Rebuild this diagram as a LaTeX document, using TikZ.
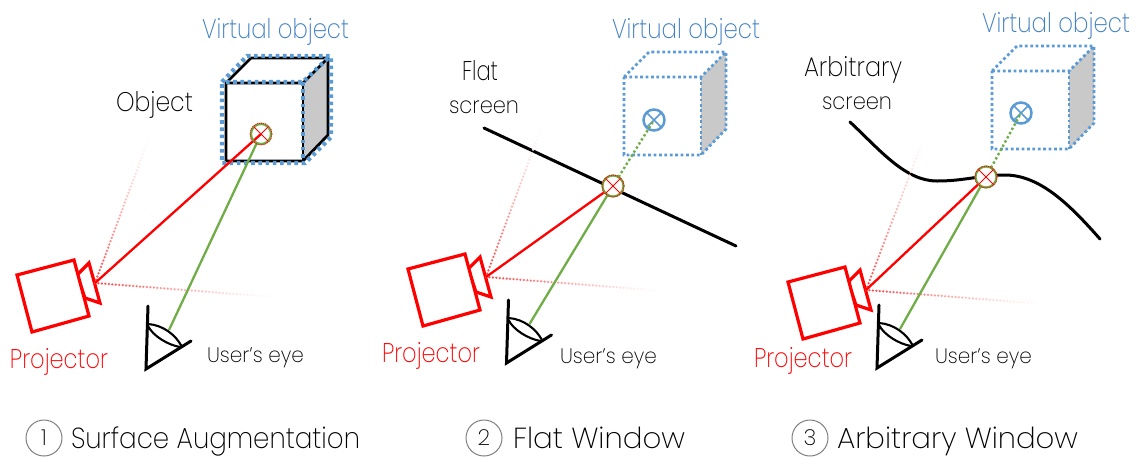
\documentclass[tikz,border=0pt]{standalone}
\usepackage{fontspec}
\usepackage{graphicx}
\setmainfont[UprightFont={* ExtraLight}]{Poppins}
\usetikzlibrary{calc}
\definecolor{vblue}{HTML}{5B9BD5}
\definecolor{tblue}{HTML}{3F7FC4}
\definecolor{vgreen}{HTML}{70AD47}
\definecolor{cgrey}{HTML}{C9C9C9}
\definecolor{tdark}{HTML}{000000}
% label: colour, fontsize, width, text
\newcommand\lbl[4]{\textcolor{#1}{\resizebox{#3pt}{\height}{\fontsize{#2}{#2}\selectfont #4}}}
\tikzset{
  x=1pt,y=-1pt,
  txt/.style={anchor=base west,inner sep=0pt,outer sep=0pt},
  protobox/.style={draw=red,line width=3.2pt,line join=miter,fill=white},
  ray/.style={draw=red,line width=2.3pt},
  sight/.style={draw=vgreen,line width=2.3pt},
  sightdot/.style={draw=vgreen,line width=2.4pt,dash pattern=on 2.4pt off 2.4pt},
  eyeline/.style={draw=black,line width=3pt,line cap=round},
  lensline/.style={draw=black,line width=2.1pt},
  vedge/.style={draw=vblue,line width=2.8pt,dash pattern=on 2.8pt off 2.6pt},
  vedgethick/.style={draw=vblue,line width=4.4pt,dash pattern=on 3.6pt off 3.6pt},
  oedge/.style={draw=black,line width=2.8pt,line join=round},
  xmark/.style={circle,minimum size=21pt,inner sep=0pt,outer sep=0pt},
  capcircle/.style={circle,draw=gray,line width=1pt,minimum size=36pt,inner sep=0pt},
  scr/.style={draw=black,line width=3pt,line cap=round},
}
% projector (origin = scene 1 position) with apex coordinate
\newcommand\projector{
  \coordinate (apex) at (95,283);
  \draw[protobox] (77,275) -- (89,263) -- (100,303) -- (85,298) -- cycle;
  \draw[protobox] (17,275) -- (74,260) -- (89,316) -- (32,332) -- cycle;
}
\newcommand\eyeshape{
  \coordinate (pupil) at (169,330);
  \draw[eyeline] (148,306) -- (146,369) -- (191,341);
  \draw[lensline] (148,324) .. controls (163,325) and (176,335) .. (182,347);
  \draw[lensline] (148,326) .. controls (153,336) and (168,345) .. (180,347);
}
% cube geometry at scene 1 position
\newcommand\cubefaces{
  \fill[cgrey] (303,83) -- (328,58) -- (328,135) -- (303,161) -- cycle;
}
\newcommand\cubeedges[1]{
  \draw[#1] (226,83) -- (251,58) -- (328,58) -- (328,135) -- (303,161) -- (226,161) -- cycle;
  \draw[#1] (226,83) -- (303,83) -- (328,58);
  \draw[#1] (303,83) -- (303,161);
}
% fading dotted ray: from, to, count
\newcommand\fadeRay[3]{
  \foreach \i in {0,...,#3}{
    \pgfmathsetmacro\tt{\i/#3}
    \pgfmathsetmacro\cc{max(0,75*(1-\tt)^1.3)}
    \fill[red!\cc!white] ($(#1)!\tt!(#2)$) circle (1.25pt);
  }
}
% crossing mark lines
\newcommand\crossin[3]{\draw[#2,line width=#3] (#1.45) -- (#1.225) (#1.135) -- (#1.315);}
\begin{document}
\begin{tikzpicture}
\useasboundingbox (0,0) rectangle (1137,456);
\fill[white] (0,0) rectangle (1137,456);

%%% Scene 1
\begin{scope}[name prefix=a-]
  \coordinate (ft) at (150,135);
  \coordinate (fr) at (275,297);
  \cubefaces
  \cubeedges{oedge}
  \draw[vedgethick] (222,82) -- (247,56) -- (331,56) -- (331,137) -- (305,163) -- (222,163) -- cycle;
  \draw[vedgethick] (226,82) -- (303,82) -- (328,58);
  \draw[vedgethick] (303,82) -- (303,161);
  \projector
  \fadeRay{apex}{ft}{46}
  \fadeRay{apex}{fr}{52}
  \eyeshape
  \node[xmark,minimum size=20pt] (m) at (261,134) {};
  \draw[ray] (apex) -- (m.center);
  \draw[sight] (pupil) -- (m);
  \draw[vgreen,line width=2.2pt] (m) circle (10pt);
  \draw[red,line width=.9pt,dash pattern=on 1pt off 1pt] (m) circle (11pt);
  \crossin{m}{red}{.9pt}
  \node[txt] (v) at (202,38) {\lbl{tblue}{27}{147}{Virtual object}};
  \node[txt] (o) at (116,111) {\lbl{tdark}{27}{77}{Object}};
  \node[txt] (p) at (10,368) {\lbl{red}{27}{98}{Projector}};
  \node[txt] (u) at (207,362) {\lbl{tdark}{21}{97}{User's eye}};
  \node[capcircle] (c) at (44,438) {\fontsize{22}{22}\selectfont 1};
  \node[txt] (t) at (71,448) {\lbl{tdark}{29}{289}{Surface Augmentation}};
\end{scope}

%%% Scene 2
\begin{scope}[name prefix=b-]
  \coordinate (s1) at (484,128);
  \coordinate (s2) at (736,246);
  \coordinate (ft) at (543,123);
  \coordinate (fr) at (665,291);
  \draw[scr] (s1) -- (s2);
  \begin{scope}[shift={(398,-6)}]\cubefaces\cubeedges{vedge}\end{scope}
  \begin{scope}[shift={(391,-6)}]\projector\end{scope}
  \fadeRay{apex}{ft}{46}
  \fadeRay{apex}{fr}{52}
  \begin{scope}[shift={(360.5,-6)}]\eyeshape\end{scope}
  \node[xmark,fill=white] (m) at (613,186) {};
  \node[xmark,minimum size=22pt,fill=white] (vm) at (654,120) {};
  \draw[vblue,line width=2.5pt] (vm) circle (10.5pt);
  \crossin{vm}{vblue}{1.7pt}
  \draw[ray] (apex) -- (m);
  \draw[sight] (pupil) -- (m);
  \draw[sightdot] (m) -- (vm.center);
  \draw[vgreen,line width=2.2pt] (m) circle (10.5pt);
  \draw[red,line width=.9pt,dash pattern=on 1pt off 1pt] (m) circle (11pt);
  \crossin{m}{red}{.9pt}
  \node[txt] (v) at (612,38) {\lbl{tblue}{27}{148}{Virtual object}};
  \node[txt] (f) at (462,80) {\lbl{tdark}{27}{36}{Flat}};
  \node[txt] (sc) at (449,113) {\lbl{tdark}{23}{70}{screen}};
  \node[txt] (p) at (382,362) {\lbl{red}{27}{98}{Projector}};
  \node[txt] (u) at (560,363) {\lbl{tdark}{21}{97}{User's eye}};
  \node[capcircle] (c) at (484,438) {\fontsize{22}{22}\selectfont 2};
  \node[txt] (t) at (513,448) {\lbl{tdark}{29}{172}{Flat Window}};
\end{scope}

%%% Scene 3
\begin{scope}[name prefix=d-]
  \coordinate (s1) at (850,122);
  \coordinate (s2) at (937,181);
  \coordinate (s3) at (1005,175);
  \coordinate (s4) at (1100,239);
  \coordinate (ft) at (925,135);
  \coordinate (fr) at (1045,304);
  \draw[scr] (s1) .. controls (880,150) and (905,181) .. (s2)
    .. controls (965,181) and (980,175) .. (s3)
    .. controls (1040,175) and (1070,205) .. (s4);
  \begin{scope}[shift={(766,-12)}]\cubefaces\cubeedges{vedge}\end{scope}
  \begin{scope}[shift={(771,7)}]\projector\end{scope}
  \fadeRay{apex}{ft}{46}
  \fadeRay{apex}{fr}{52}
  \begin{scope}[shift={(731,-1)}]\eyeshape\end{scope}
  \node[xmark,fill=white] (m) at (986,177) {};
  \node[xmark,minimum size=22pt,fill=white] (vm) at (1021,113) {};
  \draw[vblue,line width=2.5pt] (vm) circle (10.5pt);
  \crossin{vm}{vblue}{1.7pt}
  \draw[ray] (apex) -- (m);
  \draw[sight] (pupil) -- (m);
  \draw[sightdot] (m) -- (vm.center);
  \draw[vgreen,line width=2.2pt] (m) circle (10.5pt);
  \draw[red,line width=.9pt,dash pattern=on 1pt off 1pt] (m) circle (11pt);
  \crossin{m}{red}{.9pt}
  \node[txt] (v) at (982,32) {\lbl{tblue}{27}{148}{Virtual object}};
  \node[txt] (f) at (804,76) {\lbl{tdark}{27}{98}{Arbitrary}};
  \node[txt] (sc) at (822,109) {\lbl{tdark}{23}{70}{screen}};
  \node[txt] (p) at (754,367) {\lbl{red}{27}{98}{Projector}};
  \node[txt] (u) at (935,363) {\lbl{tdark}{21}{97}{User's eye}};
  \node[capcircle] (c) at (810,438) {\fontsize{22}{22}\selectfont 3};
  \node[txt] (t) at (837,448) {\lbl{tdark}{29}{241}{Arbitrary Window}};
\end{scope}
\end{tikzpicture}
\end{document}
